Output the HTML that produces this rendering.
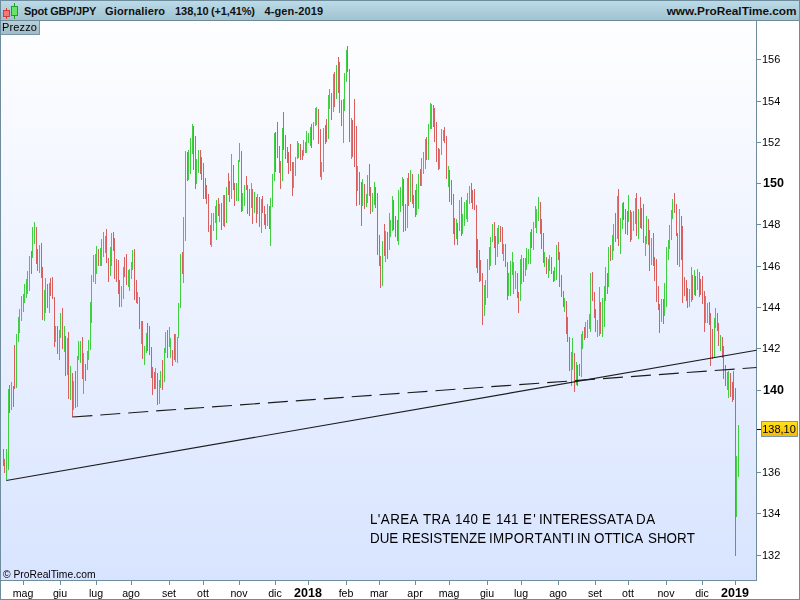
<!DOCTYPE html>
<html><head><meta charset="utf-8"><title>Spot GBP/JPY</title>
<style>
html,body{margin:0;padding:0;background:#fff;}
body{width:800px;height:600px;overflow:hidden;position:relative;font-family:"Liberation Sans",sans-serif;}
#root{position:absolute;left:0;top:0;width:800px;height:600px;background:#fff;overflow:hidden;}
#hdr{position:absolute;left:0;top:0;width:800px;height:20px;background:linear-gradient(#bddce9,#a1c2cf);border-bottom:1px solid #6f8a98;}
#hdr .t{position:absolute;top:5px;font-size:11px;font-weight:bold;color:#111;white-space:pre;line-height:13px;}
#hdr .u{position:absolute;right:3.5px;top:4.5px;font-size:11.8px;font-weight:bold;color:#111;white-space:pre;line-height:13px;}
#plot{position:absolute;left:1px;top:21px;width:755px;height:559px;background:linear-gradient(#fefeff,#d8e4ff);}
#prz{position:absolute;left:0;top:21px;width:39px;height:13px;background:linear-gradient(#b7d0dc,#9fbcc8);border-right:1px solid #7896a5;border-bottom:1px solid #7896a5;font-size:11px;line-height:13px;color:#000;}
#prz span{position:absolute;letter-spacing:0.15px;left:2px;top:0px;}
#cp{position:absolute;left:2.6px;top:569px;font-size:10.3px;line-height:12px;color:#000;white-space:pre;}
.nt{position:absolute;font-size:13.4px;line-height:16px;color:#000;white-space:pre;font-kerning:none;transform:scaleY(1.08);transform-origin:0 12.64px;}
svg{position:absolute;left:0;top:0;}
.gs{will-change:transform;}
.yl{position:absolute;left:762px;font-size:11px;line-height:13px;color:#000;}
.ylb{position:absolute;left:763px;font-size:12.5px;line-height:13px;color:#000;font-weight:bold;}
.xl{position:absolute;top:587px;font-size:10.6px;line-height:13px;color:#000;width:60px;text-align:center;margin-left:-0.4px;}
.xlb{position:absolute;top:586px;font-size:12.5px;line-height:14px;color:#000;font-weight:bold;width:60px;text-align:center;}
#last{position:absolute;left:761px;top:421px;width:34px;padding-right:1px;height:14px;border:1px solid #7a96a8;background:linear-gradient(#ffe21f,#f6b900);font-size:11px;line-height:14px;color:#000;text-align:center;}
</style></head><body><div id="root">
<div id="hdr"><div class="t" style="left:24px;letter-spacing:-0.26px">Spot GBP/JPY</div><div class="t" style="left:105px;letter-spacing:0.14px">Giornaliero</div><div class="t" style="left:175px">138,10</div><div class="t" style="left:211px;letter-spacing:-0.14px">(+1,41%)</div><div class="t" style="left:264.4px;letter-spacing:0.15px">4-gen-2019</div><div class="u">www.ProRealTime.com</div></div>
<div id="plot"></div>
<div id="prz"><span class="gs">Prezzo</span></div>

<div class="yl gs" style="top:53px">156</div>
<div class="yl gs" style="top:95px">154</div>
<div class="yl gs" style="top:136px">152</div>
<div class="ylb gs" style="top:177px">150</div>
<div class="yl gs" style="top:218px">148</div>
<div class="yl gs" style="top:260px">146</div>
<div class="yl gs" style="top:301px">144</div>
<div class="yl gs" style="top:342px">142</div>
<div class="ylb gs" style="top:384px">140</div>
<div class="yl gs" style="top:466px">136</div>
<div class="yl gs" style="top:507px">134</div>
<div class="yl gs" style="top:549px">132</div>
<div class="xl gs" style="left:-7px">mag</div>
<div class="xl gs" style="left:30px">giu</div>
<div class="xl gs" style="left:66px">lug</div>
<div class="xl gs" style="left:101px">ago</div>
<div class="xl gs" style="left:139px">set</div>
<div class="xl gs" style="left:173px">ott</div>
<div class="xl gs" style="left:209px">nov</div>
<div class="xl gs" style="left:245px">dic</div>
<div class="xlb gs" style="left:278px">2018</div>
<div class="xl gs" style="left:316px">feb</div>
<div class="xl gs" style="left:349px">mar</div>
<div class="xl gs" style="left:385px">apr</div>
<div class="xl gs" style="left:419px">mag</div>
<div class="xl gs" style="left:457px">giu</div>
<div class="xl gs" style="left:491px">lug</div>
<div class="xl gs" style="left:528px">ago</div>
<div class="xl gs" style="left:565px">set</div>
<div class="xl gs" style="left:598px">ott</div>
<div class="xl gs" style="left:636px">nov</div>
<div class="xl gs" style="left:672px">dic</div>
<div class="xlb gs" style="left:705px">2019</div>
<div id="last" class="gs">138,10</div>
<div id="cp" class="gs">© ProRealTime.com</div>
<div class="nt gs" style="left:370.0px;top:512px;letter-spacing:0.4px;">L'AREA</div>
<div class="nt gs" style="left:423.4px;top:512px;letter-spacing:0.3px;">TRA</div>
<div class="nt gs" style="left:454.6px;top:512px;letter-spacing:0.3px;">140</div>
<div class="nt gs" style="left:481.6px;top:512px;">E</div>
<div class="nt gs" style="left:496.1px;top:512px;">141</div>
<div class="nt gs" style="left:522.9px;top:512px;letter-spacing:1.3px;">E'</div>
<div class="nt gs" style="left:538.5px;top:512px;letter-spacing:0.12px;">INTERESSATA</div>
<div class="nt gs" style="left:636.4px;top:512px;letter-spacing:0.7px;">DA</div>
<div class="nt gs" style="left:369.5px;top:531px;">DUE</div>
<div class="nt gs" style="left:402.0px;top:531px;">RESISTENZE</div>
<div class="nt gs" style="left:489.4px;top:531px;letter-spacing:0.3px;">IMPORTANTI</div>
<div class="nt gs" style="left:576.8px;top:531px;">IN</div>
<div class="nt gs" style="left:593.8px;top:531px;">OTTICA</div>
<div class="nt gs" style="left:648.0px;top:531px;">SHORT</div>
<svg width="800" height="600" viewBox="0 0 800 600">
<g fill="#6f8c9c" shape-rendering="crispEdges">
<rect x="0" y="0" width="1" height="600"/>
<rect x="799" y="0" width="1" height="600"/>
<rect x="0" y="599" width="800" height="1"/>
<rect x="0" y="0" width="800" height="1"/>
<rect x="756" y="21" width="1" height="560"/>
<rect x="1" y="580" width="756" height="1"/>
<rect x="757" y="59" width="4" height="1"/>
<rect x="757" y="101" width="4" height="1"/>
<rect x="757" y="142" width="4" height="1"/>
<rect x="757" y="183" width="4" height="1"/>
<rect x="757" y="224" width="4" height="1"/>
<rect x="757" y="266" width="4" height="1"/>
<rect x="757" y="307" width="4" height="1"/>
<rect x="757" y="348" width="4" height="1"/>
<rect x="757" y="390" width="4" height="1"/>
<rect x="757" y="472" width="4" height="1"/>
<rect x="757" y="513" width="4" height="1"/>
<rect x="757" y="555" width="4" height="1"/>
<rect x="23" y="581" width="1" height="4"/>
<rect x="60" y="581" width="1" height="4"/>
<rect x="96" y="581" width="1" height="4"/>
<rect x="131" y="581" width="1" height="4"/>
<rect x="169" y="581" width="1" height="4"/>
<rect x="203" y="581" width="1" height="4"/>
<rect x="239" y="581" width="1" height="4"/>
<rect x="275" y="581" width="1" height="4"/>
<rect x="308" y="581" width="1" height="4"/>
<rect x="346" y="581" width="1" height="4"/>
<rect x="379" y="581" width="1" height="4"/>
<rect x="415" y="581" width="1" height="4"/>
<rect x="449" y="581" width="1" height="4"/>
<rect x="487" y="581" width="1" height="4"/>
<rect x="521" y="581" width="1" height="4"/>
<rect x="558" y="581" width="1" height="4"/>
<rect x="595" y="581" width="1" height="4"/>
<rect x="628" y="581" width="1" height="4"/>
<rect x="666" y="581" width="1" height="4"/>
<rect x="702" y="581" width="1" height="4"/>
<rect x="735" y="581" width="1" height="4"/>
</g>
<rect x="757" y="429" width="4" height="1" fill="#000" shape-rendering="crispEdges"/>
<g shape-rendering="crispEdges"><rect x="6" y="8" width="1" height="11" fill="#d23c3c"/><rect x="3.5" y="10.5" width="6" height="6" fill="#f47a7a" stroke="#d23c3c"/><rect x="14" y="3" width="1" height="16" fill="#1fa31f"/><rect x="11.5" y="6.5" width="6" height="9" fill="#68e268" stroke="#1fa31f"/></g>
<path d="M6 449h1v31h-1zM8 389h1v81h-1zM11 382h1v28h-1zM16 334h1v54h-1zM18 317h1v25h-1zM19 309h1v24h-1zM21 296h1v25h-1zM23 294h1v18h-1zM24 284h1v19h-1zM26 279h1v19h-1zM27 271h1v23h-1zM29 256h1v35h-1zM32 227h1v31h-1zM34 222h1v22h-1zM39 245h1v28h-1zM44 290h1v31h-1zM45 278h1v35h-1zM49 283h1v30h-1zM55 326h1v16h-1zM59 330h1v30h-1zM60 313h1v25h-1zM64 326h1v26h-1zM67 338h1v37h-1zM70 366h1v34h-1zM73 381h1v29h-1zM77 356h1v51h-1zM78 341h1v19h-1zM80 341h1v22h-1zM83 353h1v41h-1zM87 351h1v19h-1zM88 340h1v20h-1zM90 302h1v48h-1zM91 275h1v48h-1zM93 255h1v27h-1zM95 254h1v30h-1zM96 246h1v28h-1zM100 248h1v18h-1zM101 239h1v27h-1zM103 232h1v25h-1zM105 236h1v17h-1zM110 247h1v29h-1zM111 233h1v33h-1zM121 286h1v21h-1zM123 267h1v32h-1zM128 270h1v17h-1zM129 269h1v22h-1zM131 262h1v17h-1zM132 250h1v20h-1zM137 292h1v12h-1zM141 321h1v23h-1zM144 346h1v19h-1zM146 333h1v20h-1zM155 368h1v21h-1zM159 380h1v24h-1zM160 371h1v17h-1zM164 348h1v34h-1zM165 332h1v21h-1zM169 327h1v20h-1zM170 338h1v20h-1zM175 334h1v28h-1zM177 337h1v26h-1zM178 303h1v35h-1zM180 254h1v54h-1zM183 217h1v66h-1zM185 151h1v90h-1zM188 150h1v30h-1zM190 138h1v36h-1zM192 124h1v30h-1zM196 159h1v25h-1zM198 150h1v23h-1zM211 213h1v34h-1zM213 213h1v18h-1zM215 206h1v17h-1zM216 200h1v40h-1zM219 204h1v18h-1zM223 195h1v31h-1zM226 187h1v36h-1zM231 154h1v45h-1zM236 183h1v18h-1zM238 160h1v41h-1zM239 143h1v19h-1zM242 193h1v18h-1zM244 185h1v21h-1zM251 183h1v25h-1zM254 192h1v21h-1zM257 194h1v20h-1zM261 199h1v34h-1zM267 204h1v22h-1zM270 198h1v48h-1zM272 174h1v33h-1zM274 133h1v48h-1zM282 128h1v53h-1zM293 162h1v26h-1zM295 157h1v19h-1zM297 141h1v18h-1zM298 143h1v15h-1zM303 140h1v16h-1zM305 142h1v11h-1zM306 131h1v22h-1zM308 133h1v10h-1zM310 127h1v19h-1zM313 122h1v18h-1zM315 108h1v18h-1zM316 107h1v18h-1zM321 162h1v18h-1zM323 128h1v44h-1zM328 95h1v44h-1zM329 89h1v20h-1zM333 74h1v38h-1zM336 65h1v34h-1zM343 99h1v44h-1zM344 73h1v38h-1zM346 50h1v32h-1zM351 118h1v41h-1zM357 166h1v25h-1zM362 179h1v27h-1zM366 194h1v13h-1zM367 175h1v28h-1zM372 193h1v19h-1zM374 182h1v23h-1zM382 241h1v45h-1zM385 231h1v31h-1zM389 213h1v37h-1zM390 220h1v17h-1zM392 196h1v35h-1zM398 190h1v55h-1zM400 187h1v25h-1zM402 177h1v29h-1zM407 178h1v50h-1zM410 170h1v32h-1zM416 184h1v31h-1zM418 174h1v35h-1zM421 158h1v28h-1zM423 152h1v22h-1zM425 139h1v30h-1zM428 124h1v36h-1zM430 103h1v26h-1zM431 104h1v25h-1zM439 149h1v20h-1zM441 129h1v26h-1zM443 130h1v11h-1zM448 166h1v21h-1zM456 219h1v20h-1zM459 200h1v31h-1zM462 214h1v20h-1zM464 202h1v24h-1zM466 200h1v19h-1zM467 193h1v29h-1zM469 186h1v18h-1zM484 285h1v31h-1zM485 280h1v25h-1zM487 259h1v39h-1zM489 247h1v23h-1zM490 237h1v29h-1zM492 224h1v18h-1zM497 228h1v29h-1zM498 225h1v19h-1zM503 244h1v17h-1zM508 273h1v23h-1zM510 261h1v35h-1zM512 252h1v23h-1zM513 262h1v32h-1zM515 271h1v18h-1zM520 259h1v42h-1zM521 255h1v29h-1zM525 258h1v18h-1zM526 248h1v22h-1zM528 249h1v15h-1zM530 232h1v32h-1zM533 222h1v28h-1zM535 206h1v22h-1zM536 209h1v24h-1zM538 197h1v24h-1zM544 252h1v15h-1zM548 259h1v19h-1zM549 255h1v16h-1zM554 267h1v14h-1zM556 245h1v35h-1zM564 298h1v14h-1zM571 352h1v34h-1zM572 338h1v32h-1zM576 362h1v23h-1zM581 334h1v43h-1zM582 331h1v18h-1zM585 322h1v16h-1zM587 320h1v18h-1zM589 314h1v15h-1zM590 273h1v59h-1zM597 320h1v17h-1zM599 287h1v49h-1zM602 298h1v39h-1zM604 286h1v41h-1zM605 267h1v34h-1zM608 247h1v40h-1zM612 235h1v25h-1zM613 224h1v27h-1zM617 196h1v43h-1zM620 218h1v36h-1zM622 203h1v26h-1zM628 195h1v27h-1zM631 212h1v28h-1zM633 211h1v20h-1zM635 198h1v26h-1zM638 209h1v30h-1zM645 236h1v20h-1zM646 216h1v28h-1zM651 238h1v27h-1zM661 299h1v23h-1zM664 283h1v33h-1zM666 247h1v60h-1zM668 240h1v20h-1zM669 225h1v24h-1zM671 210h1v30h-1zM672 199h1v20h-1zM679 209h1v58h-1zM689 289h1v18h-1zM691 267h1v35h-1zM694 270h1v25h-1zM697 269h1v21h-1zM705 296h1v27h-1zM707 303h1v20h-1zM714 318h1v40h-1zM715 308h1v20h-1zM720 335h1v16h-1zM727 372h1v18h-1zM728 371h1v27h-1zM736 456h1v61h-1zM738 425h1v52h-1z" fill="#3fcf3f" shape-rendering="crispEdges"/>
<path d="M3 449h1v17h-1zM4 459h1v14h-1zM9 385h1v28h-1zM13 386h1v21h-1zM14 345h1v44h-1zM31 251h1v23h-1zM36 227h1v37h-1zM37 249h1v22h-1zM41 243h1v35h-1zM42 267h1v53h-1zM47 284h1v24h-1zM50 278h1v18h-1zM52 277h1v22h-1zM54 297h1v50h-1zM57 326h1v28h-1zM62 308h1v41h-1zM65 336h1v40h-1zM68 332h1v67h-1zM72 373h1v44h-1zM75 371h1v37h-1zM82 337h1v42h-1zM85 364h1v17h-1zM98 249h1v17h-1zM106 229h1v34h-1zM108 258h1v24h-1zM113 232h1v19h-1zM114 238h1v41h-1zM116 259h1v23h-1zM118 260h1v34h-1zM119 280h1v27h-1zM124 257h1v20h-1zM126 254h1v31h-1zM134 249h1v51h-1zM136 280h1v23h-1zM139 297h1v32h-1zM142 321h1v38h-1zM147 323h1v28h-1zM149 326h1v29h-1zM151 347h1v31h-1zM152 367h1v28h-1zM154 372h1v17h-1zM157 373h1v32h-1zM162 360h1v30h-1zM167 330h1v28h-1zM172 350h1v16h-1zM174 334h1v26h-1zM182 252h1v22h-1zM187 152h1v29h-1zM193 126h1v44h-1zM195 136h1v53h-1zM200 150h1v24h-1zM201 157h1v23h-1zM203 163h1v36h-1zM205 178h1v21h-1zM206 185h1v19h-1zM208 194h1v38h-1zM210 225h1v20h-1zM218 198h1v18h-1zM221 203h1v27h-1zM224 195h1v32h-1zM228 173h1v22h-1zM229 181h1v21h-1zM233 165h1v25h-1zM234 183h1v23h-1zM241 151h1v61h-1zM246 176h1v14h-1zM247 185h1v29h-1zM249 189h1v27h-1zM252 189h1v35h-1zM256 197h1v26h-1zM259 197h1v30h-1zM262 196h1v17h-1zM264 206h1v19h-1zM265 214h1v15h-1zM269 206h1v23h-1zM275 132h1v40h-1zM277 122h1v36h-1zM279 146h1v27h-1zM280 161h1v28h-1zM283 112h1v38h-1zM285 135h1v24h-1zM287 147h1v16h-1zM288 152h1v22h-1zM290 144h1v27h-1zM292 162h1v34h-1zM300 144h1v16h-1zM302 150h1v10h-1zM311 124h1v24h-1zM318 109h1v35h-1zM320 129h1v48h-1zM325 125h1v19h-1zM326 119h1v23h-1zM331 93h1v27h-1zM334 72h1v35h-1zM338 57h1v36h-1zM339 62h1v51h-1zM341 100h1v26h-1zM347 46h1v26h-1zM349 69h1v73h-1zM352 120h1v37h-1zM354 99h1v68h-1zM356 126h1v80h-1zM359 172h1v33h-1zM361 182h1v44h-1zM364 184h1v25h-1zM369 164h1v32h-1zM370 187h1v27h-1zM375 187h1v21h-1zM377 193h1v62h-1zM379 235h1v31h-1zM380 256h1v32h-1zM384 224h1v32h-1zM387 232h1v27h-1zM393 200h1v30h-1zM395 216h1v21h-1zM397 220h1v21h-1zM403 179h1v53h-1zM405 204h1v27h-1zM408 173h1v33h-1zM412 174h1v30h-1zM413 195h1v13h-1zM415 190h1v27h-1zM420 169h1v17h-1zM426 137h1v23h-1zM433 105h1v22h-1zM434 108h1v34h-1zM436 122h1v40h-1zM438 148h1v22h-1zM444 127h1v16h-1zM446 136h1v43h-1zM449 170h1v32h-1zM451 180h1v25h-1zM453 194h1v40h-1zM454 218h1v27h-1zM457 223h1v22h-1zM461 197h1v39h-1zM471 183h1v20h-1zM472 190h1v19h-1zM474 189h1v21h-1zM476 205h1v63h-1zM477 239h1v34h-1zM479 250h1v32h-1zM480 260h1v21h-1zM482 273h1v52h-1zM494 222h1v26h-1zM495 236h1v29h-1zM500 226h1v16h-1zM502 227h1v27h-1zM505 244h1v23h-1zM507 262h1v38h-1zM517 273h1v25h-1zM518 292h1v21h-1zM523 258h1v24h-1zM531 229h1v19h-1zM540 202h1v32h-1zM541 219h1v30h-1zM543 233h1v30h-1zM546 257h1v17h-1zM551 257h1v17h-1zM553 271h1v11h-1zM558 242h1v18h-1zM559 252h1v35h-1zM561 275h1v22h-1zM563 291h1v16h-1zM566 301h1v33h-1zM567 317h1v25h-1zM569 337h1v34h-1zM574 353h1v39h-1zM577 365h1v21h-1zM579 364h1v12h-1zM584 327h1v13h-1zM592 272h1v29h-1zM594 292h1v26h-1zM595 309h1v23h-1zM600 302h1v32h-1zM607 273h1v21h-1zM610 245h1v16h-1zM615 213h1v29h-1zM618 189h1v57h-1zM623 202h1v18h-1zM625 209h1v25h-1zM627 211h1v24h-1zM630 210h1v32h-1zM636 193h1v43h-1zM640 197h1v31h-1zM641 208h1v21h-1zM643 204h1v39h-1zM648 219h1v26h-1zM649 230h1v41h-1zM653 233h1v33h-1zM654 257h1v24h-1zM656 259h1v43h-1zM658 286h1v24h-1zM659 304h1v29h-1zM663 299h1v25h-1zM674 193h1v20h-1zM676 204h1v32h-1zM677 233h1v32h-1zM681 216h1v44h-1zM682 226h1v77h-1zM684 277h1v19h-1zM686 280h1v21h-1zM687 288h1v20h-1zM692 275h1v25h-1zM695 276h1v20h-1zM699 272h1v25h-1zM700 279h1v16h-1zM702 276h1v28h-1zM704 291h1v41h-1zM709 302h1v23h-1zM710 313h1v53h-1zM712 329h1v30h-1zM717 313h1v18h-1zM718 323h1v23h-1zM722 337h1v21h-1zM723 346h1v33h-1zM725 365h1v21h-1zM730 373h1v24h-1zM732 382h1v20h-1zM733 371h1v29h-1zM735 388h1v168h-1z" fill="#d95f5f" shape-rendering="crispEdges"/>
<line x1="6.3" y1="480.5" x2="756.5" y2="350.3" stroke="#1c1c1c" stroke-width="1.15"/>
<line x1="72.4" y1="417" x2="756.5" y2="367.5" stroke="#1c1c1c" stroke-width="1.15" stroke-dasharray="20 8"/>
</svg>
</div></body></html>
